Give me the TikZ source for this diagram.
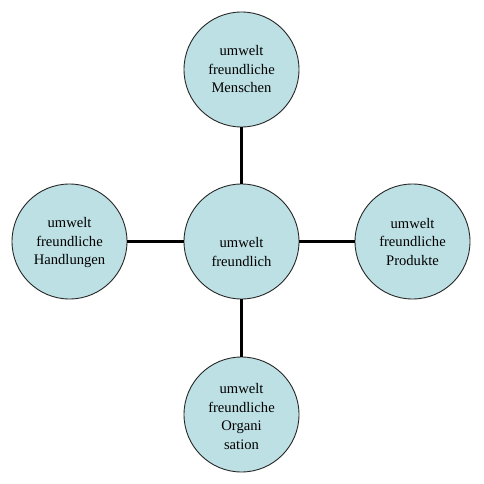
\documentclass[tikz,border=0pt]{standalone}
\usepackage{fontspec}
\setmainfont{Liberation Serif}
\begin{document}
\begin{tikzpicture}[x=1pt,y=-1pt,
  bubble/.style={circle,draw=black!85,line width=0.9pt,fill=bubblefill,minimum size=115pt,inner sep=0pt},
  txt/.style={align=center,inner sep=0pt,font=\fontsize{14.6pt}{18.5pt}\selectfont},
  link/.style={line width=3pt,black}]
\definecolor{bubblefill}{RGB}{189,224,228}
\useasboundingbox (0,0) rectangle (484,484);
\node[bubble] (c) at (241.5,241.5) {};
\node[bubble] (t) at (241.5,69.5) {};
\node[bubble] (b) at (241.5,414.5) {};
\node[bubble] (l) at (69.5,241.5) {};
\node[bubble] (r) at (412.5,241.5) {};
\draw[link] (t) -- (c);
\draw[link] (c) -- (b);
\draw[link] (l) -- (c);
\draw[link] (c) -- (r);
\node[txt] (ct) at (241.5,252) {umwelt\\freundlich};
\node[txt] (tt) at (241.5,69.5) {umwelt\\freundliche\\Menschen};
\node[txt] (bt) at (241.5,416.5) {umwelt\\freundliche\\Organi\\sation};
\node[txt] (lt) at (69.5,243) {umwelt\\freundliche\\Handlungen};
\node[txt] (rt) at (412.5,242) {umwelt\\freundliche\\Produkte};
\end{tikzpicture}
\end{document}
